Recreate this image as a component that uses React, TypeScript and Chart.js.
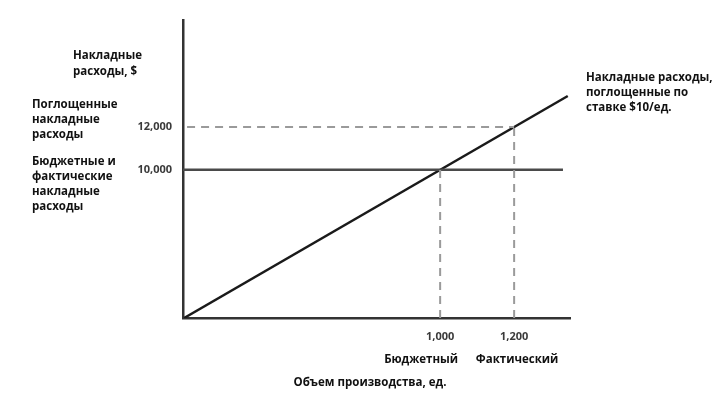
import React, { useEffect, useRef } from "react";
import { Chart, registerables } from "chart.js";

Chart.register(...registerables);

// Volume (units) and overhead ($)
const volumeTicks = [1000, 1200];
const volumeTickNames = ["Бюджетный", "Фактический"];
const overheadTicks = [10000, 12000];

const absorbedVolume = [308, 1345];
const absorbedOverhead = [3080, 13450];

const budgetVolume = [305, 1332];
const budgetOverhead = [10000, 10000];

const actualAbsorbedVolume = [316, 1200];
const actualAbsorbedOverhead = [12000, 12000];

const budgetDropVolume = [1000, 1000];
const budgetDropOverhead = [3080, 10000];

const actualDropVolume = [1200, 1200];
const actualDropOverhead = [3080, 12000];

const X_MIN = 305;
const X_MAX = 1351;
const Y_MIN = 3080;
const Y_MAX = 17000;

const FONT = "'Open Sans', 'Noto Sans', sans-serif";

const pts = (xs: number[], ys: number[]) => xs.map((x, i) => ({ x, y: ys[i] }));

const textPlugin = {
  id: "texts",
  afterDraw(chart: any) {
    const ctx = chart.ctx;
    const xs = chart.scales.x;
    ctx.save();
    ctx.fillStyle = "#111";
    ctx.font = `bold 11.5px ${FONT}`;
    ctx.textBaseline = "middle";
    ctx.textAlign = "left";
    const lines = (arr: string[], x: number, y0: number, dy: number) =>
      arr.forEach((s, i) => ctx.fillText(s, x, y0 + i * dy));
    lines(["Накладные", "расходы, $"], 73, 56, 16);
    lines(["Поглощенные", "накладные", "расходы"], 32, 105, 15);
    lines(["Бюджетные и", "фактические", "накладные", "расходы"], 32, 162, 15);
    lines(["Накладные расходы,", "поглощенные по", "ставке $10/ед."], 586, 78, 15);
    ctx.textAlign = "center";
    ctx.fillText(volumeTickNames[0], xs.getPixelForValue(volumeTicks[0]) - 19, 360);
    ctx.fillText(volumeTickNames[1], xs.getPixelForValue(volumeTicks[1]) + 3, 360);
    ctx.fillText("Объем производства, ед.", 370, 383);
    ctx.restore();
  },
};

export default function App() {
  const ref = useRef<HTMLCanvasElement>(null);
  useEffect(() => {
    document.body.style.margin = "0";
    const chart = new Chart(ref.current!, {
      type: "line",
      data: {
        datasets: [
          {
            data: pts(budgetDropVolume, budgetDropOverhead),
            borderColor: "#9a9a9a",
            borderWidth: 2,
            borderDash: [8, 6],
            pointRadius: 0,
          },
          {
            data: pts(actualDropVolume, actualDropOverhead),
            borderColor: "#9a9a9a",
            borderWidth: 2,
            borderDash: [8, 6],
            pointRadius: 0,
          },
          {
            data: pts(actualAbsorbedVolume, actualAbsorbedOverhead),
            borderColor: "#9a9a9a",
            borderWidth: 2,
            borderDash: [8, 6],
            pointRadius: 0,
          },
          {
            data: pts(budgetVolume, budgetOverhead),
            borderColor: "#4a4a4a",
            borderWidth: 2.5,
            pointRadius: 0,
          },
          {
            data: pts(absorbedVolume, absorbedOverhead),
            borderColor: "#1a1a1a",
            borderWidth: 2.5,
            pointRadius: 0,
          },
        ],
      },
      options: {
        animation: false,
        responsive: false,
        layout: { padding: { left: 0, top: 20, right: 153, bottom: 0 } },
        plugins: { legend: { display: false }, tooltip: { enabled: false } },
        scales: {
          x: {
            type: "linear",
            min: X_MIN,
            max: X_MAX,
            grid: { display: false, drawTicks: false },
            border: { display: true, color: "#333", width: 2.5 },
            afterBuildTicks: (s: any) => {
              s.ticks = volumeTicks.map((v) => ({ value: v }));
            },
            afterFit: (s: any) => {
              s.height = 86;
            },
            ticks: {
              padding: 12,
              color: "#3a3a3a",
              font: { family: FONT, size: 11, weight: "bold" },
              maxRotation: 0,
              autoSkip: false,
              callback: (v: any) => Number(v).toLocaleString("en-US"),
            },
          },
          y: {
            type: "linear",
            min: Y_MIN,
            max: Y_MAX,
            grid: { display: false, drawTicks: false },
            border: { display: true, color: "#333", width: 2.5 },
            afterBuildTicks: (s: any) => {
              s.ticks = overheadTicks.map((v) => ({ value: v }));
            },
            afterFit: (s: any) => {
              s.width = 183;
            },
            ticks: {
              padding: 11,
              color: "#3a3a3a",
              font: { family: FONT, size: 11, weight: "bold" },
              autoSkip: false,
              callback: (v: any) => Number(v).toLocaleString("en-US"),
            },
          },
        },
      },
      plugins: [textPlugin],
    });
    return () => chart.destroy();
  }, []);
  return (
    <div style={{ width: 723, height: 404, background: "#fff" }}>
      <canvas ref={ref} width={723} height={404} />
    </div>
  );
}
